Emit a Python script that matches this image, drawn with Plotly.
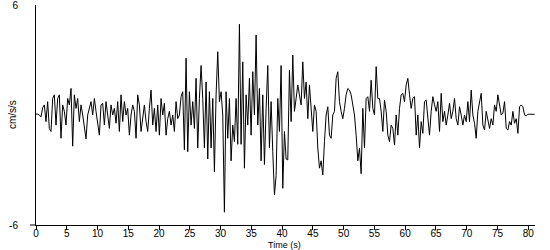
import plotly.graph_objects as go

# sample interval (s) of the digitised record
dt = 0.271

# acceleration samples (cm/s/s)
acc = [
    # 0 - 13 s
    0.05, 0.05, 0.0, -0.1, 0.4, 0.55, -0.36, 0.73, -0.73, -0.9, 0.9, 1.1, -0.55, 0.9, 1.1, -1.27,
    0.55, 0.2, -0.55, 0.9, 0.55, 1.45, -1.7, 1.1, 0.36, 0.9, -0.36, 0.55, 0.0, -0.55, -1.3, 0.0,
    0.36, 0.73, 0.0, 0.9, 0.2, -0.55, -1.1, 0.55, 0.64, -0.55, 0.73, 0.0, -0.73, 0.55, 0.0, 0.36, -0.45,
    # 13 - 27 s
    0.73, -0.9, 1.1, -0.36, 0.73, 0.0, 0.36, -1.1, 0.0, 0.55, 0.2, -1.27, 1.1, 0.55, -0.9, 0.0,
    0.55, -0.36, -0.9, 0.36, 1.36, -0.55, 0.36, -0.9, 0.55, -1.1, 0.9, 0.0, 0.64, -1.1, -0.2, 0.2,
    -0.55, 0.0, -0.9, 0.73, -0.2, 0.0, 1.0, 1.27, -1.9, 3.1, -2.0, 1.27, -0.55, 0.73, -0.73, 2.0,
    -1.8, 0.9, 2.7,
    # 27 - 41 s
    0.9, -1.8, 1.8, -2.4, 1.27, -1.8, 0.9, -3.1, 1.1, 3.45, 0.73, 1.27, 0.0, -5.3, 1.27, -1.27,
    0.9, -2.5, -0.55, -1.45, 0.9, -1.6, 4.95, -1.6, 2.9, -2.9, 1.1, -0.55, 2.0, -1.1, 2.36, 0.0,
    4.36, -0.55, 1.45, -2.5, 1.1, -2.7, 0.36, 2.7, -1.8, 0.73, -2.0, -4.36, -3.3, 0.9, -0.9, 2.7,
    -4.0, -0.9, -2.4,
    # 41 - 55 s
    -2.45, 2.45, -0.36, 3.27, 0.2, 0.9, 1.64, 1.1, 0.55, 2.9, 0.9, 1.8, -0.2, 1.64, 0.0, -0.9,
    0.55, 0.2, -1.8, -2.9, -2.5, -3.27, -1.45, 0.0, 0.45, -1.1, -1.27, 0.0, 0.2, 2.0, 2.36, 0.73,
    0.2, -0.2, 0.36, 1.1, 1.45, 1.36, 1.1, 0.64, 0.0, -1.1, -2.5, -1.8, -3.2, 0.36, -1.8, 0.9,
    1.0, 0.2, 1.9,
    # 55 - 69 s
    0.36, 0.0, 2.64, 0.9, 0.9, 0.2, -0.9, 0.82, 0.2, -1.1, -1.45, -0.55, -0.73, -1.64, 0.0, -1.1,
    0.36, 1.1, 1.18, 0.73, 1.64, 2.0, 1.1, 0.36, 0.9, 1.0, -1.1, 0.0, -1.8, -0.36, -1.0, 0.73,
    0.82, 0.0, -1.1, 0.2, 1.0, 0.55, 0.2, 0.73, -0.9, 1.18, -0.36, 0.2, -0.55, 0.0, 0.64, -0.2,
    0.2, 0.9, -0.2,
    # 69 - 81 s
    -0.55, 0.45, 0.0, -0.55, 0.0, -0.36, 0.73, -0.36, 1.36, 0.0, -0.45, -1.27, 0.2, 0.73, 1.18, -0.55,
    -0.82, 0.2, -0.36, -0.73, -0.2, -0.55, 0.55, 0.2, 1.1, 0.55, 0.0, 0.1, 0.73, -0.73, -0.82, -0.36,
    -0.55, 0.2, -0.45, -0.2, -1.0, 0.45, 0.55, 0.45, 0.0, -0.04, 0.04, 0.04, 0.04, 0.04, 0.04,
]
time = [round(i * dt, 3) for i in range(len(acc))]

x_ticks = list(range(0, 81, 5))
y_ticks = [-6, 6]
y_tick_labels = ["-6", "6"]

FONT = "Liberation Sans, Arial, sans-serif"

fig = go.Figure(
    go.Scatter(x=time, y=acc, mode="lines", line=dict(color="black", width=1),
               hoverinfo="skip")
)

fig.update_layout(
    width=550, height=250,
    margin=dict(l=36, r=15, t=5, b=25),
    paper_bgcolor="white", plot_bgcolor="white",
    showlegend=False,
    font=dict(family=FONT, size=10, color="black"),
)

fig.update_xaxes(
    range=[0, 81.1], tickvals=x_ticks, ticks="outside", ticklen=4, tickcolor="black",
    showline=True, linecolor="black", linewidth=1, showgrid=False, zeroline=False,
    tickfont=dict(family=FONT, size=10, color="black"),
    ticklabelstandoff=-5, automargin=False,
)
fig.update_yaxes(
    range=[-6, 6], tickvals=y_ticks, ticktext=y_tick_labels, ticks="",
    showline=True, linecolor="black", linewidth=1, showgrid=False, zeroline=False,
    tickfont=dict(family=FONT, size=10, color="black"),
    ticklabelstandoff=15, ticklabeloverflow="allow", automargin=False,
)

fig.add_annotation(
    text="cm/s/s", textangle=-90, xref="paper", yref="paper",
    x=-0.048, y=0.5, xanchor="center", yanchor="middle", showarrow=False,
    font=dict(family=FONT, size=10, color="black"),
)
fig.add_annotation(
    text="Time (s)", xref="paper", yref="paper",
    x=0.497, y=-19.5 / 220, xanchor="center", yanchor="middle", showarrow=False,
    font=dict(family=FONT, size=9, color="black"),
)
fig.add_shape(type="line", xref="paper", yref="paper", x0=-0.012, x1=0, y0=0, y1=0,
              line=dict(color="black", width=1))

fig.write_html("out.html")
